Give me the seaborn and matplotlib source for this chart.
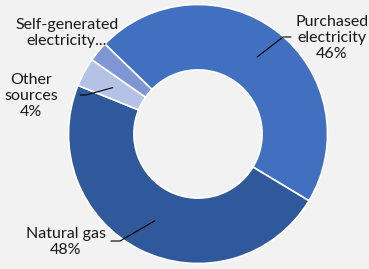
import numpy as np
import matplotlib
matplotlib.use("Agg")
import matplotlib.pyplot as plt
import seaborn as sns

sources = ["Purchased\nelectricity", "Natural gas", "Other\nsources", "Self-generated\nelectricity..."]
shares = [46.4, 47.5, 3.6, 2.5]
colors = ["#4170C0", "#30599B", "#B4C3E5", "#7E96D4"]

sns.set_style("white")
plt.rcParams['font.family'] = ['Lato', 'DejaVu Sans']

bg = "#F2F2F2"
fig = plt.figure(figsize=(3.69, 2.69), dpi=100, facecolor=bg)
ax = fig.add_axes([0, 0, 1, 1])
ax.set_facecolor(bg)

wedges, _ = ax.pie(shares, colors=colors, startangle=136, counterclock=False,
                   radius=1, wedgeprops=dict(width=0.505, edgecolor="white", linewidth=1.2))

# centre of donut in pixels and radius, used to map the axes
cx, cy, R = 198, 134, 129.5
W, H = 369, 269
ax.set_aspect("auto")
ax.set_xlim(-cx / R, (W - cx) / R)
ax.set_ylim(-(H - cy) / R, cy / R)
ax.axis("off")

def px(x, y):
    return ((x - cx) / R, (cy - y) / R)

# label text (pixel centre of text block), leader elbow, leader end
label_pos = [(332, 38), (66, 242), (31, 96), (67, 33)]
elbows = [[(283, 37), (291, 37)], [(120, 241), (111, 241)], [(86, 95), (80, 95)], None]

for i, w in enumerate(wedges):
    pct = round(shares[i])
    txt = sources[i] + "\n" + f"{pct}%" if i < 3 else sources[i]
    tx, ty = px(*label_pos[i])
    ax.text(tx, ty, txt, ha="center", va="center", fontsize=11.5,
            color="#1a1a1a", linespacing=1.22)
    if elbows[i] is not None:
        mid = np.deg2rad((w.theta1 + w.theta2) / 2)
        r = 0.75
        xs = [r * np.cos(mid)] + [px(*p)[0] for p in elbows[i]]
        ys = [r * np.sin(mid)] + [px(*p)[1] for p in elbows[i]]
        ax.plot(xs, ys, color="black", lw=0.8)

fig.savefig("out.png", dpi=100, facecolor=bg)
